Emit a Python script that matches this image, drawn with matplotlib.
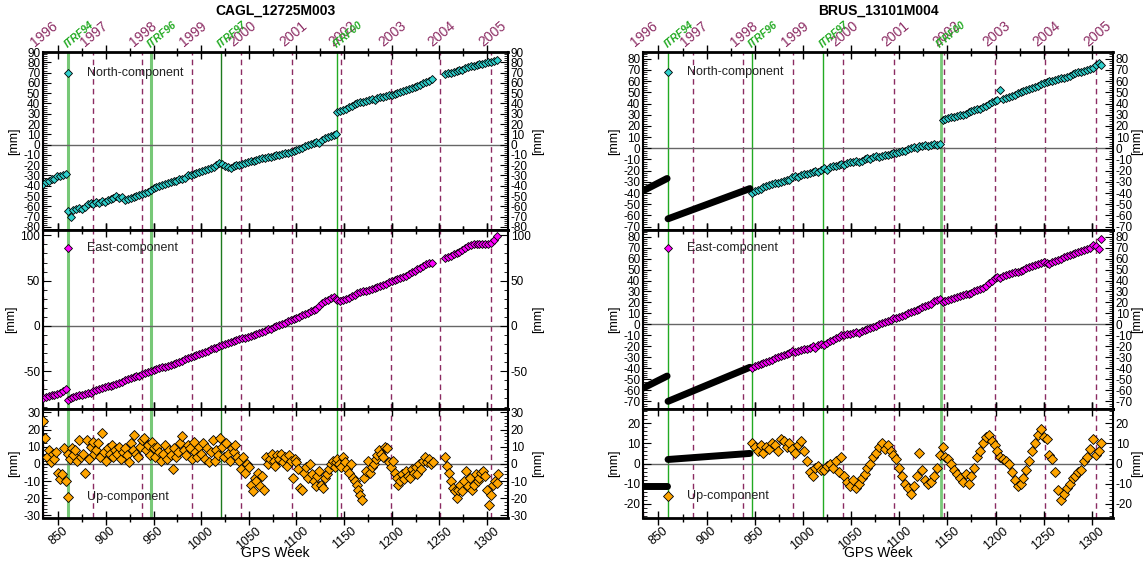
import numpy as np
import matplotlib.pyplot as plt
from matplotlib.ticker import MultipleLocator
from matplotlib.transforms import blended_transform_factory

plt.rcParams["font.family"] = ["Liberation Sans", "DejaVu Sans"]
plt.rcParams["axes.unicode_minus"] = False

years = [1996, 1997, 1998, 1999, 2000, 2001, 2002, 2003, 2004, 2005]
year_weeks = [834, 886, 938, 990, 1042, 1095, 1147, 1199, 1251, 1304]
itrf_names = ["ITRF94", "ITRF96", "ITRF97", "ITRF00"]
itrf_weeks = [860, 947, 1021, 1143]

# ---- CAGL_12725M003 (segments start at these weeks) ----
cagl_starts = [834, 860, 1143, 1256]
cagl_step_ne = 3   # weeks between plotted north/east solutions
cagl_step_up = 2
cagl_north = [
    [-38, -36, -35, -33, -33, -31, -31, -30, -29],
    [-65, -70, -64, -63, -62, -63, -61, -58, -57, -58,
     -56, -57, -55, -56, -54, -53, -52, -50, -52, -51,
     -54, -53, -52, -51, -50, -49, -48, -47, -46, -44,
     -42, -41, -40, -39, -38, -37, -36, -35, -35, -33,
     -33, -32, -30, -30, -29, -28, -27, -26, -25, -24,
     -23, -22, -20, -18, -19, -21, -22, -23, -21, -20,
     -20, -19, -18, -17, -16, -16, -15, -14, -13, -13,
     -12, -12, -11, -10, -10, -9, -8, -8, -7, -6,
     -5, -4, -3, -1, 0, 1, 2, 3, 2, 4,
     6, 7, 8, 9, 10],
    [32, 33, 34, 35, 37, 38, 39, 40, 41, 41,
     42, 43, 44, 43, 45, 46, 46, 47, 48, 48,
     49, 50, 51, 52, 53, 54, 55, 56, 57, 58,
     60, 61, 62, 64],
    [69, 70, 70, 71, 72, 73, 73, 74, 75, 76,
     76, 77, 78, 78, 79, 80, 80, 81, 82],
]
cagl_east = [
    [-80, -79, -78, -77, -77, -75, -74, -72, -70],
    [-82, -80, -79, -78, -77, -76, -75, -74, -74, -72,
     -71, -70, -69, -68, -67, -66, -65, -64, -63, -62,
     -60, -59, -58, -57, -56, -55, -53, -52, -51, -50,
     -49, -48, -47, -46, -45, -44, -43, -42, -41, -40,
     -39, -37, -36, -35, -33, -32, -31, -30, -29, -28,
     -26, -25, -24, -22, -21, -20, -19, -18, -17, -16,
     -15, -14, -13, -12, -11, -10, -9, -8, -7, -6,
     -4, -3, -1, 0, 1, 2, 3, 5, 6, 8,
     9, 10, 12, 13, 14, 16, 17, 19, 22, 25,
     27, 29, 31, 32, 30],
    [29, 28, 29, 30, 31, 33, 34, 36, 37, 38,
     39, 40, 41, 42, 43, 44, 45, 46, 48, 50,
     51, 52, 53, 54, 55, 57, 59, 61, 63, 64,
     66, 68, 69, 70],
    [75, 76, 77, 79, 80, 82, 84, 86, 88, 89,
     90, 90, 90, 90, 91, 90, 92, 95, 99],
]
cagl_up = [
    [25, 15, 4, 8, 1, 6, 3, 7, -5, -9, -6, 9, -10],
    [6, 3, 9, 5, 8, 2, 14, 4, 6, -5,
     14, 3, 10, 13, 6, 8, 12, 4, 18, 7,
     2, 9, 6, 11, 4, 8, 6, 10, 3, 7,
     9, 5, 1, 12, 8, 17, 6, 4, 10, 14,
     15, 8, 11, 5, 13, 9, 4, 10, 7, 2,
     6, 11, 3, 8, 5, -3, 9, 4, 7, 12,
     16, 8, 5, 11, 9, 3, 13, 7, 4, 10,
     6, 12, 3, 9, 1, 7, 14, 2, 8, 5,
     15, 10, 4, 12, 6, 2, 9, 7, 11, 4,
     2, -3, 4, -5, 0, -2, -12, -16, -8, -10,
     -5, -13, -7, -15, 4, 0, 3, 6, 2, -1,
     5, 3, 6, 1, 4, -1, 5, 2, -8, 3,
     1, -3, -14, -15, -5, -2, -8, 0, -6, -10,
     -13, -7, -4, -12, -14, -8, -6, -3, 0, 2,
     -2, 1],
    [3, 0, -2, 4, 1, -3, -5, 0, -8, -10,
     -12, -15, -18, -21, -8, -4, 2, -5, -2, 0,
     3, 5, 8, 6, 4, 10, 9, 1, -2, 2,
     -5, -8, -12, -10, -6, -9, -4, -7, -8, -3,
     -5, -2, -6, 0, -3, 2, 4, 1, 3, 0,
     1],
    [4, -1, -5, -10, -14, -16, -20, -15, -12, -16,
     -10, -4, -13, -8, -15, -12, -6, -10, -8, -5,
     -4, -7, -15, -24, -18, -12, -10, -11, -6],
]

# ---- BRUS_13101M004 ----
brus_starts = [947, 1145]
brus_step = 3
brus_model_weeks = [[834, 859], [860, 945]]
brus_north_model = [[-38, -27], [-63, -36]]
brus_east_model = [[-58, -47], [-70, -39]]
brus_up_model = [[-11, -11], [2, 5]]
brus_north = [
    [-40, -38, -37, -36, -35, -34, -33, -32, -31, -31,
     -30, -29, -28, -28, -26, -25, -26, -24, -23, -23,
     -22, -21, -20, -21, -19, -18, -19, -17, -16, -16,
     -15, -14, -15, -13, -12, -12, -11, -12, -11, -10,
     -9, -10, -8, -7, -8, -7, -6, -6, -5, -4,
     -4, -3, -2, -2, -1, 0, 1, 0, 2, 2,
     3, 2, 3, 4, 3, 4],
    [25, 26, 27, 28, 28, 29, 30, 30, 31, 32,
     33, 34, 35, 35, 37, 38, 40, 41, 42, 43,
     52, 44, 45, 46, 47, 48, 49, 50, 51, 52,
     53, 54, 55, 56, 57, 58, 59, 60, 60, 61,
     62, 63, 63, 64, 65, 66, 67, 68, 68, 69,
     70, 71, 72, 74, 76, 74],
]
brus_east = [
    [-40, -38, -37, -36, -35, -34, -33, -32, -31, -30,
     -29, -28, -27, -26, -24, -25, -24, -23, -22, -22,
     -21, -20, -21, -19, -18, -19, -17, -15, -14, -12,
     -11, -10, -10, -9, -9, -8, -7, -8, -6, -5,
     -4, -3, -2, -1, 0, 1, 2, 3, 4, 6,
     6, 7, 8, 9, 10, 11, 12, 13, 14, 16,
     17, 18, 19, 21, 22, 23],
    [20, 21, 22, 23, 24, 25, 26, 27, 28, 28,
     29, 30, 31, 32, 33, 35, 38, 40, 42, 43,
     42, 44, 45, 46, 47, 48, 48, 49, 50, 51,
     52, 53, 54, 55, 56, 57, 56, 55, 57, 58,
     59, 60, 61, 62, 63, 64, 65, 66, 67, 68,
     69, 70, 72, 71, 69, 78],
]
brus_up = [
    [10, 8, 6, 9, 5, 8, 7, 10, 9, 6,
     12, 11, 8, 10, 7, 5, 9, 11, 6, 1,
     -4, -6, -2, -1, -3, -3, -1, 0, -2, 1,
     -4, 3, -6, -9, -11, -8, -12, -10, -7, -5,
     -2, 0, 3, 5, 8, 10, 7, 9, 6, 4,
     2, -2, -6, -10, -12, -15, -11, -6, 5, -3,
     -8, -10, -9, -6, -2, 4],
    [8, 3, 2, 0, -3, -5, -7, -9, -5, -10,
     -6, -2, 3, 6, 10, 13, 14, 11, 9, 6,
     3, 2, 1, 0, -4, -8, -11, -10, -7, -3,
     1, 6, 10, 14, 17, 13, 12, 4, 2, -4,
     -13, -18, -15, -12, -10, -7, -6, -4, -3, 1,
     3, 7, 12, 4, 6, 10],
]

PURPLE = "#8b2a62"
CYAN = "#2fd0cc"
MAGENTA = "#ff00ff"
ORANGE = "#ffa500"


def weeks_of(start, vals, step):
    return start + step * np.arange(len(vals))


def draw_panel(ax, starts, segs, step, models, ylim, major, minor, color,
               label, legend_y, itrf_style, ms=4.2, top=False, bottom=False,
               rpad=17):
    for wk in year_weeks:
        ax.axvline(wk, color=PURPLE, ls=(0, (4, 3)), lw=1, zorder=1)
    for wk, (c, lw, a) in zip(itrf_weeks, itrf_style):
        ax.axvline(wk, color=c, lw=lw, alpha=a, zorder=1)
    ax.axhline(0, color="#666666", lw=1, zorder=1)

    if models is not None:
        for wks, vals in models:
            ax.plot(wks, vals, color="black", lw=5, solid_capstyle="round", zorder=2)
    for st, vals in zip(starts, segs):
        ax.plot(weeks_of(st, vals, step), vals, ls="none", marker="D", ms=ms,
                mfc=color, mec="black", mew=0.6, zorder=3)

    # legend-style marker and text
    ax.plot([860], [legend_y], ls="none", marker="D", ms=ms, mfc=color,
            mec="black", mew=0.6, zorder=4)
    ax.text(880, legend_y, label, fontsize=9, va="center", color="#222222")

    ax.set_xlim(834, 1322)
    ax.set_ylim(*ylim)
    ax.yaxis.set_major_locator(MultipleLocator(major))
    ax.yaxis.set_minor_locator(MultipleLocator(minor))
    ax.xaxis.set_major_locator(MultipleLocator(50))
    ax.xaxis.set_minor_locator(MultipleLocator(25))
    ax.tick_params(axis="y", which="both", direction="in", left=True, right=True,
                   labelleft=True, labelright=True, labelsize=8.5, pad=2)
    ax.tick_params(axis="y", which="major", length=6)
    ax.tick_params(axis="y", which="minor", length=3)
    ax.tick_params(axis="x", which="both", direction="inout", top=True,
                   bottom=True, labelbottom=bottom, labeltop=False)
    ax.tick_params(axis="x", which="major", length=10, width=1)
    ax.tick_params(axis="x", which="minor", length=6, width=1)
    ax.set_ylabel("[mm]", fontsize=9, labelpad=2)
    ax2 = ax.secondary_yaxis("right")
    ax2.set_yticks([])
    ax2.set_ylabel("[mm]", fontsize=9, labelpad=rpad)
    ax2.spines["right"].set_visible(False)
    for side in ["top", "bottom"]:
        ax.spines[side].set_linewidth(2)
    for side in ["left", "right"]:
        ax.spines[side].set_linewidth(1.5)

    if bottom:
        for lbl in ax.get_xticklabels():
            lbl.set_rotation(40)
            lbl.set_fontsize(9)
        ax.tick_params(axis="x", pad=0)
        ax.set_xlabel("GPS Week", fontsize=10)
        ax.xaxis.set_label_coords(0.5, -0.255)
    if top:
        tr = blended_transform_factory(ax.transData, ax.transAxes)
        for yr, wk in zip(years, year_weeks):
            ax.text(wk - 6, 1.015, str(yr), transform=tr, rotation=40,
                    rotation_mode="anchor", ha="left", va="bottom",
                    color=PURPLE, fontsize=10)
        for name, wk in zip(itrf_names, itrf_weeks):
            ax.text(wk + 1, 1.015, name, transform=tr, rotation=40,
                    rotation_mode="anchor", ha="left", va="bottom",
                    color="#22aa22", fontsize=7.5, style="italic", weight="bold")


fig = plt.figure(figsize=(11.46, 5.63), dpi=100)
rows = [(0.5915, 0.3161), (0.2735, 0.3180), (0.0799, 0.1936)]
cols = [(0.0375, 0.4058), (0.5611, 0.4101)]

cagl_itrf = [("#55bb55", 2.2, 0.8), ("#55bb55", 2.2, 0.8),
             ("#1d7a1d", 1.0, 1.0), ("#22aa22", 1.0, 1.0)]
brus_itrf = [("#22aa22", 1.0, 1.0), ("#22aa22", 1.0, 1.0),
             ("#22aa22", 1.0, 1.0), ("#55bb55", 2.0, 0.8)]

# CAGL column
x0, w = cols[0]
ax = fig.add_axes([x0, rows[0][0], w, rows[0][1]])
draw_panel(ax, cagl_starts, cagl_north, cagl_step_ne, None, (-83, 90), 10, 2,
           CYAN, "North-component", 70, cagl_itrf, top=True)
ax.set_title("CAGL_12725M003", fontsize=10, weight="bold", pad=27)
ax = fig.add_axes([x0, rows[1][0], w, rows[1][1]])
draw_panel(ax, cagl_starts, cagl_east, cagl_step_ne, None, (-92, 106), 50, 10,
           MAGENTA, "East-component", 86, cagl_itrf)
ax = fig.add_axes([x0, rows[2][0], w, rows[2][1]])
draw_panel(ax, cagl_starts, cagl_up, cagl_step_up, None, (-31.5, 32), 10, 2,
           ORANGE, "Up-component", -19, cagl_itrf, ms=4.6, bottom=True)

# BRUS column
x0, w = cols[1]
ax = fig.add_axes([x0, rows[0][0], w, rows[0][1]])
draw_panel(ax, brus_starts, brus_north, brus_step,
           list(zip(brus_model_weeks, brus_north_model)), (-73, 86), 10, 2,
           CYAN, "North-component", 68, brus_itrf, top=True, rpad=13)
ax.set_title("BRUS_13101M004", fontsize=10, weight="bold", pad=27)
ax = fig.add_axes([x0, rows[1][0], w, rows[1][1]])
draw_panel(ax, brus_starts, brus_east, brus_step,
           list(zip(brus_model_weeks, brus_east_model)), (-77, 86), 10, 2,
           MAGENTA, "East-component", 70, brus_itrf, rpad=13)
ax = fig.add_axes([x0, rows[2][0], w, rows[2][1]])
draw_panel(ax, brus_starts, brus_up, brus_step,
           list(zip(brus_model_weeks, brus_up_model)), (-27, 27), 10, 2,
           ORANGE, "Up-component", -16, brus_itrf, ms=4.6, bottom=True, rpad=13)

fig.savefig("out.png", dpi=100)
